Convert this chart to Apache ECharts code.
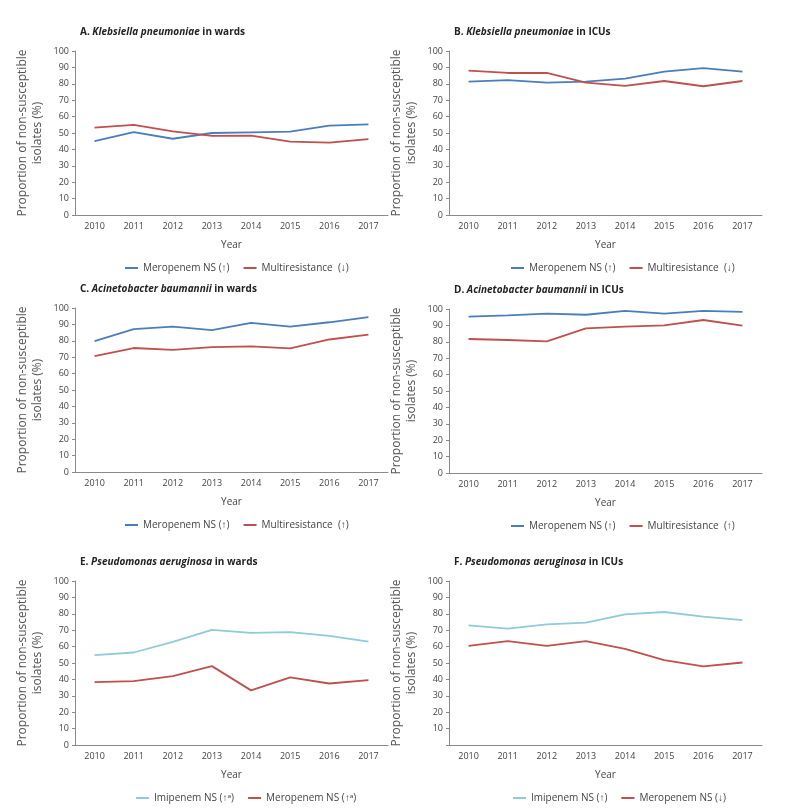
<!DOCTYPE html>
<html>
<head>
<meta charset="utf-8">
<script src="https://cdn.jsdelivr.net/npm/echarts@6/dist/echarts.min.js"></script>
<style>html,body{margin:0;padding:0;background:#fff}#c{width:798px;height:812px}</style>
</head>
<body>
<div id="c"></div>
<script>
var years = ['2010','2011','2012','2013','2014','2015','2016','2017'];
var yTicks = [0,10,20,30,40,50,60,70,80,90,100];

var aMero = [45.1, 50.6, 46.5, 50.0, 50.4, 50.8, 54.5, 55.3];
var aMulti = [53.3, 54.9, 51.0, 48.2, 48.4, 44.7, 44.1, 46.3];
var bMero = [81.3, 82.3, 80.7, 81.3, 83.1, 87.4, 89.6, 87.4];
var bMulti = [88.0, 86.6, 86.6, 80.7, 78.7, 81.7, 78.5, 81.7];
var cMero = [79.8, 87.1, 88.7, 86.5, 90.9, 88.7, 91.3, 94.5];
var cMulti = [70.7, 75.6, 74.5, 76.2, 76.6, 75.4, 80.8, 83.8];
var dMero = [95.3, 96.1, 97.2, 96.5, 98.8, 97.2, 98.8, 98.2];
var dMulti = [81.7, 81.1, 80.3, 88.2, 89.2, 90.0, 93.3, 89.8];
var eImi = [54.8, 56.4, 62.9, 70.2, 68.4, 68.8, 66.5, 63.1];
var eMero = [38.3, 38.9, 42.0, 48.1, 33.3, 41.2, 37.5, 39.6];
var fImi = [73.0, 71.0, 73.6, 74.6, 79.7, 81.1, 78.3, 76.1];
var fMero = [60.4, 63.3, 60.4, 63.3, 58.6, 51.7, 47.9, 50.3];

var panels = [
  {letter:'A.', species:'Klebsiella pneumoniae', place:' in wards', s:[['Meropenem NS (↑)', aMero, 'blue'], ['Multiresistance  (↓)', aMulti, 'red']], left:75, top:51, legX:120, hideZero:false},
  {letter:'B.', species:'Klebsiella pneumoniae', place:' in ICUs', s:[['Meropenem NS (↑)', bMero, 'blue'], ['Multiresistance  (↓)', bMulti, 'red']], left:449, top:51, legX:506, hideZero:false},
  {letter:'C.', species:'Acinetobacter baumannii', place:' in wards', s:[['Meropenem NS (↑)', cMero, 'blue'], ['Multiresistance  (↑)', cMulti, 'red']], left:75, top:308, legX:120, hideZero:false},
  {letter:'D.', species:'Acinetobacter baumannii', place:' in ICUs', s:[['Meropenem NS (↑)', dMero, 'blue'], ['Multiresistance  (↑)', dMulti, 'red']], left:449, top:309, legX:506, hideZero:false},
  {letter:'E.', species:'Pseudomonas aeruginosa', place:' in wards', s:[['Imipenem NS (↑ᵃ)', eImi, 'aqua'], ['Meropenem NS (↑ᵃ)', eMero, 'red']], left:75, top:581, legX:131, hideZero:false},
  {letter:'F.', species:'Pseudomonas aeruginosa', place:' in ICUs', s:[['Imipenem NS (↑)', fImi, 'aqua'], ['Meropenem NS (↓)', fMero, 'red']], left:449, top:581, legX:508, hideZero:true}
];

var colors = {blue:'#4a7ebb', red:'#c0504d', aqua:'#8fcbd8'};
var FONT = '"Open Sans", "Noto Sans", sans-serif';
var GW = 313, GH = 164;

var option = {
  animation:false,
  backgroundColor:'#fff',
  textStyle:{fontFamily:FONT},
  title:[], grid:[], xAxis:[], yAxis:[], series:[], legend:[]
};

panels.forEach(function(p, i){
  option.title.push({
    left:p.left, top:p.top - 29,
    text:'{b|' + p.letter + ' }{i|' + p.species + '}{b|' + p.place + '}',
    textStyle:{rich:{
      b:{fontFamily:FONT, fontSize:10, fontWeight:'bold', color:'#222'},
      i:{fontFamily:FONT, fontSize:10, fontWeight:'bold', fontStyle:'italic', color:'#222'}
    }}
  });
  option.grid.push({left:p.left, top:p.top, width:GW, height:GH});
  option.xAxis.push({
    type:'category', gridIndex:i, data:years, boundaryGap:true,
    name:'Year', nameLocation:'middle', nameGap:25,
    nameTextStyle:{fontSize:10, color:'#444', fontFamily:FONT},
    axisLine:{lineStyle:{color:'#8a8a8a', width:1}},
    axisTick:{show:false},
    axisLabel:{fontSize:9, color:'#444', margin:7, fontFamily:FONT}
  });
  option.yAxis.push({
    type:'value', gridIndex:i, min:0, max:100, interval:10,
    name:'Proportion of non-susceptible\nisolates (%)', nameLocation:'middle', nameGap:30,
    nameTextStyle:{fontSize:12, color:'#555', lineHeight:15, fontFamily:FONT},
    axisLine:{show:true, lineStyle:{color:'#8a8a8a', width:1}},
    axisTick:{show:true, length:3, lineStyle:{color:'#8a8a8a'}},
    splitLine:{show:false},
    axisLabel:{fontSize:9, color:'#444', margin:6, fontFamily:FONT,
      formatter:(function(hz){return function(v){ return (hz && v===0) ? '' : String(v); };})(p.hideZero)}
  });
  var names = [];
  p.s.forEach(function(s){
    names.push(s[0]);
    option.series.push({
      type:'line', name:s[0], xAxisIndex:i, yAxisIndex:i, data:s[1],
      symbol:'none', lineStyle:{color:colors[s[2]], width:1.8}, itemStyle:{color:colors[s[2]]}
    });
  });
  option.legend.push({
    data:names, left:p.legX, top:p.top + GH + 43,
    icon:'rect', itemWidth:13, itemHeight:2, itemGap:14,
    textStyle:{fontSize:10, color:'#444', fontFamily:FONT}
  });
});

var chart = echarts.init(document.getElementById('c'), null, {renderer:'canvas'});
chart.setOption(option);
</script>
</body>
</html>
